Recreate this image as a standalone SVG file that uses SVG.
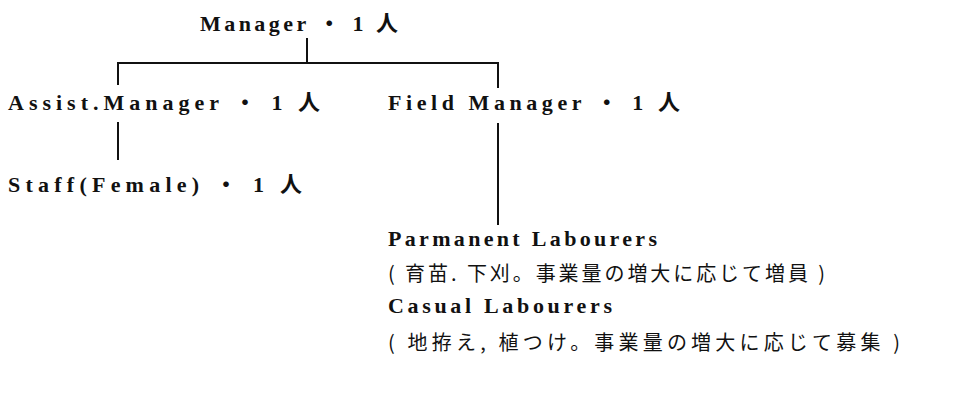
<svg xmlns="http://www.w3.org/2000/svg" width="971" height="410" viewBox="0 0 971 410">
<style>
.t{font-family:"Liberation Serif","Noto Sans CJK JP",serif;font-size:22px;font-weight:bold;fill:#111}
.j{font-family:"Noto Sans CJK JP",sans-serif;font-size:20px;fill:#111}
.c{stroke:#111;stroke-width:2;fill:none}
</style>
<rect width="971" height="410" fill="#fff"/>
<g id="connectors">
<path class="c" d="M307 38V63M118 85V63H498V88"/>
<path class="c" d="M118 122V160"/>
<path class="c" d="M498 123V225"/>
</g>
<g id="manager"><text class="t" x="200" y="31" textLength="198" lengthAdjust="spacing">Manager ・ 1 人</text></g>
<g id="assist"><text class="t" x="8" y="110" textLength="312" lengthAdjust="spacing">Assist.Manager ・ 1 人</text></g>
<g id="field"><text class="t" x="388" y="110" textLength="292" lengthAdjust="spacing">Field Manager ・ 1 人</text></g>
<g id="staff"><text class="t" x="8" y="192" textLength="294" lengthAdjust="spacing">Staff(Female) ・ 1 人</text></g>
<g id="labourers">
<text class="t" x="388" y="246" textLength="269" lengthAdjust="spacing">Parmanent Labourers</text>
<text class="j" x="388" y="281" textLength="437" lengthAdjust="spacing">( 育苗. 下刈。事業量の増大に応じて増員 )</text>
<text class="t" x="388" y="313" textLength="224" lengthAdjust="spacing">Casual Labourers</text>
<text class="j" x="388" y="350" textLength="512" lengthAdjust="spacing">( 地拵え, 植つけ。事業量の増大に応じて募集 )</text>
</g>
</svg>
